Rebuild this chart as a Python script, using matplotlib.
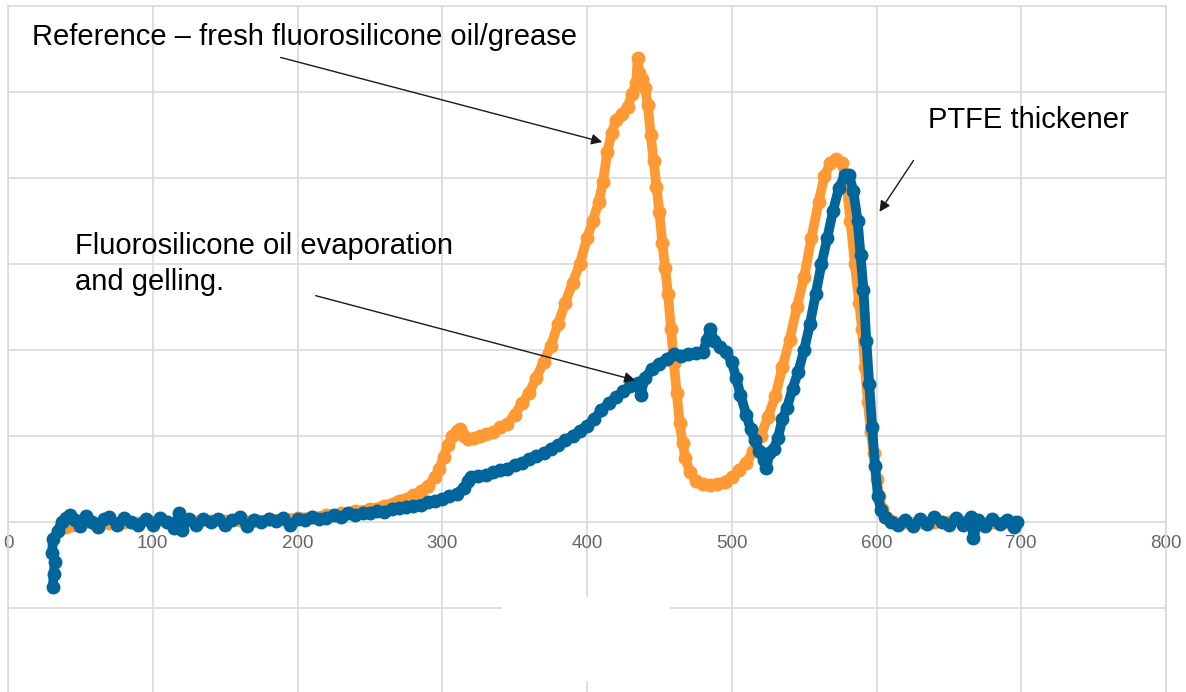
import matplotlib
matplotlib.use('Agg')
import matplotlib.pyplot as plt
from matplotlib.patches import Rectangle

plt.rcParams['font.family'] = ['Liberation Sans', 'DejaVu Sans']

# blue: aged sample (oil evaporated / gelled)
aged_x = [31, 31.5, 32.5, 30.5, 31, 34.5, 37, 40, 43, 46, 50, 54, 58, 62, 66, 70, 75, 80, 85, 90,
          95, 100, 105, 110, 115, 118, 120, 125, 130, 135, 140, 145, 150, 155, 160, 165, 170,
          175, 180, 185, 190, 195, 200, 205, 210, 215, 220, 225, 230, 235, 240, 245, 250, 255,
          260, 265, 270, 275, 280, 285, 290, 295, 300, 305, 310, 315, 318, 320, 325, 330, 335,
          340, 345, 350, 355, 360, 365, 370, 375, 380, 385, 390, 395, 400, 405, 410, 415, 420,
          425, 430, 435, 437, 440, 445, 450, 455, 460, 465, 470, 475, 480, 483, 485, 488, 492,
          496, 500, 503, 506, 510, 513, 516, 519, 522, 524, 526, 529, 532, 535, 538, 542, 546,
          550, 554, 558, 562, 566, 570, 574, 578, 581, 584, 587, 589, 591, 593, 595, 597, 599,
          601, 603, 606, 610, 615, 620, 625, 630, 635, 640, 645, 650, 655, 660, 665, 667, 670,
          675, 680, 685, 690, 695, 697]
aged_y = [-0.76, -0.6, -0.47, -0.36, -0.2, -0.1, 0.0, 0.05, 0.08, 0.02, -0.05, 0.07, 0.0, -0.06,
          0.04, 0.06, -0.03, 0.05, 0.0, -0.04, 0.04, -0.03, 0.05, 0.0, -0.07, 0.1, -0.09, 0.04,
          -0.03, 0.03, 0.0, 0.03, -0.04, 0.02, 0.06, -0.05, 0.02, 0.0, 0.04, 0.01, 0.05, -0.03,
          0.03, 0.02, 0.06, 0.03, 0.05, 0.08, 0.06, 0.1, 0.08, 0.1, 0.1, 0.13, 0.12, 0.15, 0.16,
          0.17, 0.19, 0.2, 0.23, 0.24, 0.27, 0.3, 0.33, 0.4, 0.48, 0.52, 0.54, 0.55, 0.58, 0.6,
          0.62, 0.66, 0.69, 0.73, 0.77, 0.8, 0.85, 0.9, 0.95, 1.0, 1.06, 1.12, 1.2, 1.3, 1.38,
          1.45, 1.52, 1.58, 1.62, 1.48, 1.68, 1.78, 1.84, 1.9, 1.95, 1.93, 1.95, 1.96, 1.98,
          2.12, 2.25, 2.1, 2.04, 1.98, 1.86, 1.68, 1.48, 1.25, 1.08, 0.95, 0.82, 0.72, 0.63,
          0.8, 0.85, 0.98, 1.2, 1.32, 1.55, 1.75, 2.0, 2.3, 2.65, 3.0, 3.3, 3.62, 3.88, 4.03,
          4.04, 3.85, 3.5, 3.1, 2.7, 2.1, 1.6, 1.1, 0.65, 0.3, 0.14, 0.06, 0.0, -0.03, 0.02,
          -0.05, 0.03, -0.02, 0.06, 0.0, -0.04, 0.05, -0.03, 0.06, -0.19, 0.02, -0.05, 0.04,
          -0.02, 0.02, -0.06, 0.0]

# orange: reference, fresh grease
fresh_x = [40, 45, 50, 60, 70, 80, 90, 100, 110, 120, 130, 140, 150, 160, 170, 180, 190, 200,
           210, 220, 230, 240, 250, 260, 270, 280, 285, 290, 295, 298, 301, 304, 307, 310, 312,
           315, 318, 322, 326, 330, 335, 340, 345, 350, 355, 360, 365, 370, 375, 380, 385, 390,
           395, 400, 404, 408, 411, 414, 417, 420, 424, 428, 431, 434, 435, 436, 438, 440, 442,
           444, 446, 448, 450, 452, 454, 456, 458, 460, 462, 464, 466, 468, 471, 475, 480, 485,
           490, 495, 500, 505, 510, 515, 520, 525, 530, 535, 540, 545, 550, 555, 560, 564, 568,
           572, 576, 579, 582, 585, 588, 590, 592, 594, 596, 598, 600, 602, 604, 607, 612, 620,
           630, 640, 650, 660, 670, 680, 690, 695]
fresh_y = [-0.06, -0.04, -0.02, -0.02, -0.01, 0.0, -0.01, 0.0, 0.0, 0.0, 0.0, 0.01, 0.01, 0.02,
           0.02, 0.03, 0.04, 0.05, 0.06, 0.08, 0.1, 0.13, 0.15, 0.19, 0.25, 0.31, 0.36, 0.42,
           0.52, 0.62, 0.76, 0.9, 1.0, 1.06, 1.08, 1.0, 0.96, 0.98, 1.0, 1.02, 1.05, 1.1, 1.14,
           1.25, 1.38, 1.5, 1.68, 1.86, 2.05, 2.3, 2.55, 2.78, 3.0, 3.3, 3.5, 3.72, 3.95, 4.3,
           4.52, 4.67, 4.75, 4.82, 4.98, 5.1, 5.4, 5.22, 5.15, 5.05, 4.85, 4.5, 4.2, 3.9, 3.6,
           3.25, 2.95, 2.65, 2.25, 1.85, 1.5, 1.15, 0.92, 0.74, 0.58, 0.48, 0.44, 0.43, 0.44,
           0.47, 0.52, 0.6, 0.69, 0.82, 1.0, 1.22, 1.46, 1.8, 2.12, 2.5, 2.85, 3.3, 3.72, 4.02,
           4.17, 4.22, 4.18, 3.95, 3.5, 3.0, 2.55, 2.25, 1.8, 1.4, 1.05, 0.8, 0.5, 0.3, 0.15,
           0.05, 0.0, 0.0, 0.0, 0.0, 0.0, 0.0, 0.0, 0.0, 0.0, 0.0]

x_ticks = [0, 100, 200, 300, 400, 500, 600, 700, 800]
y_grid = [-1, 1, 2, 3, 4, 5]

ORANGE = '#FF9933'
BLUE = '#00659A'
GRID = '#D9D9D9'

fig = plt.figure(figsize=(11.86, 6.92), dpi=100)
ax = fig.add_axes([8 / 1186, -2 / 692, 1158 / 1186, 688 / 692])
ax.set_xlim(0, 800)
ax.set_ylim(-2, 6)

ax.plot(fresh_x, fresh_y, color=ORANGE, lw=7, marker='o', ms=9, solid_joinstyle='round',
        solid_capstyle='round', zorder=3)
ax.plot(aged_x, aged_y, color=BLUE, lw=7, marker='o', ms=9, solid_joinstyle='round',
        solid_capstyle='round', zorder=4)

# gridlines / frame
ax.set_xticks(x_ticks)
ax.set_yticks(y_grid)
ax.grid(True, color=GRID, lw=1.2)
ax.set_axisbelow(True)
for s in ['top', 'left', 'right', 'bottom']:
    ax.spines[s].set_color(GRID)
    ax.spines[s].set_linewidth(1.2)
ax.spines['bottom'].set_position(('data', 0))
ax.spines['bottom'].set_zorder(0.5)
ax.tick_params(length=0)
ax.tick_params(axis='x', pad=9, labelsize=13.5, labelcolor='#666666')
ax.tick_params(axis='y', labelleft=False)

# blank patch over the lower grid
ax.add_patch(Rectangle((341.3, -1.85), 116, 0.98, facecolor='white', edgecolor='none', zorder=1))

arrow = dict(arrowstyle='-|>', color='#1a1a1a', lw=1, mutation_scale=16)
ax.text(16.6, 5.64, 'Reference \u2013 fresh fluorosilicone oil/grease', fontsize=21,
        va='center', ha='left', zorder=6)
ax.annotate('', xy=(412.4, 4.41), xytext=(186.5, 5.41), arrowprops=arrow, zorder=6)

ax.text(635.6, 4.67, 'PTFE thickener', fontsize=21, va='center', ha='left', zorder=6)
ax.annotate('', xy=(601.0, 3.58), xytext=(626.6, 4.23), arrowprops=arrow, zorder=6)

ax.text(46.3, 3.0, 'Fluorosilicone oil evaporation\nand gelling.', fontsize=21, va='center',
        ha='left', linespacing=1.35, zorder=6)
ax.annotate('', xy=(435.2, 1.64), xytext=(210.7, 2.64), arrowprops=arrow, zorder=6)

fig.savefig('out.png', dpi=100)
